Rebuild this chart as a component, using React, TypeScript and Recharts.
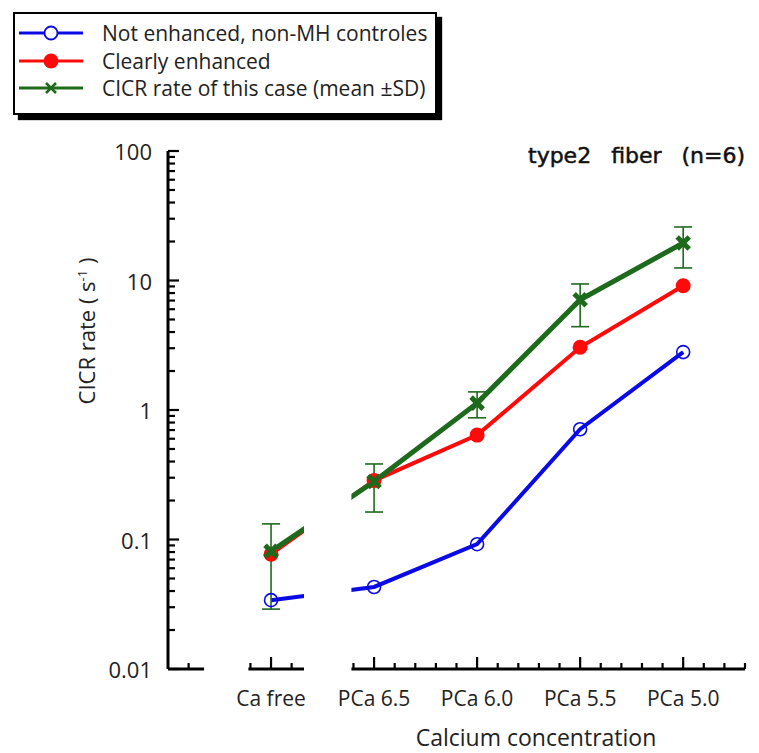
import React from "react";
import {
  LineChart, Line, XAxis, YAxis, ErrorBar, ReferenceLine, ReferenceArea, Legend,
} from "recharts";

const CATEGORIES = ["Ca free", "PCa 6.5", "PCa 6.0", "PCa 5.5", "PCa 5.0"];
const X_POS = [1, 2, 3, 4, 5];

const NOT_ENHANCED = [0.034, 0.043, 0.092, 0.71, 2.8];
const CLEARLY_ENHANCED = [0.077, 0.285, 0.64, 3.05, 9.1];
const THIS_CASE = [0.081, 0.28, 1.13, 7.1, 19.5];
const THIS_CASE_LOW = [0.029, 0.163, 0.87, 4.4, 12.5];
const THIS_CASE_HIGH = [0.132, 0.383, 1.38, 9.4, 25.9];

const X_TICKS = [
  0.2, 0.8, 1, 1.2, 1.8, 2, 2.2, 2.4, 2.6, 2.8, 3, 3.2, 3.4, 3.6, 3.8,
  4, 4.2, 4.4, 4.6, 4.8, 5, 5.2, 5.4, 5.6,
];
const Y_TICKS = [
  0.01, 0.02, 0.03, 0.04, 0.05, 0.06, 0.07, 0.08, 0.09,
  0.1, 0.2, 0.3, 0.4, 0.5, 0.6, 0.7, 0.8, 0.9,
  1, 2, 3, 4, 5, 6, 7, 8, 9,
  10, 20, 30, 40, 50, 60, 70, 80, 90, 100,
];
// broken x axis: visible pieces, and the gap that hides the connecting lines
const AXIS_SEGMENTS = [[0, 0.35], [0.78, 1.32], [1.78, 5.6]];
const BREAK_GAP = [1.32, 1.78];

const BLUE = "#0a0ae6";
const RED = "#ff0a0a";
const GREEN = "#1d6a1d";
const FONT = "'Open Sans', 'Noto Sans', sans-serif";

const data = X_POS.map((x, i) => ({
  x,
  notEnhanced: NOT_ENHANCED[i],
  clearly: CLEARLY_ENHANCED[i],
  thisCase: THIS_CASE[i],
  sd: [THIS_CASE[i] - THIS_CASE_LOW[i], THIS_CASE_HIGH[i] - THIS_CASE[i]],
}));

function XTick({ x, y, payload }: any) {
  const idx = X_POS.indexOf(payload.value);
  const major = idx >= 0;
  return (
    <g>
      <line x1={x} y1={y} x2={x} y2={y - (major ? 12 : 6)} stroke="#000" strokeWidth={2.2} />
      {major && (
        <text x={x} y={y + 29} textAnchor="middle" dominantBaseline="central"
          fontFamily={FONT} fontSize={21} fill="#222">
          {CATEGORIES[idx]}
        </text>
      )}
    </g>
  );
}

function YTick({ x, y, payload }: any) {
  const lg = Math.log10(payload.value);
  const major = Math.abs(lg - Math.round(lg)) < 1e-6;
  return (
    <g>
      <line x1={x} y1={y} x2={x + (major ? 11 : 7)} y2={y} stroke="#000" strokeWidth={2.2} />
      {major && (
        <text x={x - 16} y={y} textAnchor="end" dominantBaseline="central"
          fontFamily={FONT} fontSize={22} fill="#222">
          {String(payload.value)}
        </text>
      )}
    </g>
  );
}

function XMark({ cx, cy, size = 6, strokeWidth = 1.8 }: any) {
  if (cx == null || cy == null) return null;
  return (
    <g>
      <line x1={cx - size} y1={cy - size} x2={cx + size} y2={cy + size} stroke={GREEN} strokeWidth={strokeWidth} />
      <line x1={cx - size} y1={cy + size} x2={cx + size} y2={cy - size} stroke={GREEN} strokeWidth={strokeWidth} />
    </g>
  );
}

const LEGEND_ITEMS = [
  { label: "Not enhanced, non-MH controles", color: BLUE, marker: "open" },
  { label: "Clearly enhanced", color: RED, marker: "filled" },
  { label: "CICR rate of this case (mean \u00b1SD)", color: GREEN, marker: "x" },
];

function LegendBox() {
  return (
    <div style={{
      position: "relative", width: 420, height: 99, border: "2px solid #000",
      background: "#fff", boxShadow: "5px 5px 1px #000", fontFamily: FONT,
    }}>
      {LEGEND_ITEMS.map((it, i) => (
        <div key={it.label} style={{ position: "absolute", left: 0, top: 19 + i * 27.5 - 14, height: 28, width: 420 }}>
          <svg width={72} height={28} style={{ position: "absolute", left: 2, top: 0 }}>
            <line x1={2} y1={14} x2={66} y2={14} stroke={it.color} strokeWidth={3} />
            {it.marker === "open" && <circle cx={34} cy={14} r={6.5} fill="#fff" stroke={it.color} strokeWidth={1.8} />}
            {it.marker === "filled" && <circle cx={34} cy={14} r={7.5} fill={it.color} />}
            {it.marker === "x" && <XMark cx={34} cy={14} size={5} strokeWidth={2.5} />}
          </svg>
          <span style={{ position: "absolute", left: 87, top: 0, lineHeight: "28px", fontSize: 21, color: "#222", whiteSpace: "pre" }}>
            {it.label}
          </span>
        </div>
      ))}
    </div>
  );
}

export default function App() {
  return (
    <div style={{ position: "absolute", left: 0, top: 0, width: 759, height: 753, background: "#fff", overflow: "hidden" }}>
      <LineChart width={759} height={753} data={data} margin={{ top: 151, right: 14, bottom: 24, left: 0 }}>
        <XAxis type="number" dataKey="x" domain={[0, 5.6]} ticks={X_TICKS} interval={0}
          axisLine={false} tickLine={false} tickSize={0} tickMargin={0} height={60} tick={<XTick />}
          allowDataOverflow />
        <YAxis type="number" scale="log" domain={[0.01, 100]} ticks={Y_TICKS} interval={0}
          axisLine={{ stroke: "#000", strokeWidth: 3 }} tickLine={false} tickSize={0} tickMargin={0}
          width={168} tick={<YTick />} allowDataOverflow />
        {AXIS_SEGMENTS.map(([a, b]) => (
          <ReferenceLine key={a} segment={[{ x: a, y: 0.01 }, { x: b, y: 0.01 }]} stroke="#000" strokeWidth={3} />
        ))}
        <Line type="linear" dataKey="notEnhanced" stroke={BLUE} strokeWidth={4} isAnimationActive={false}
          dot={{ r: 6.5, fill: "none", stroke: BLUE, strokeWidth: 1.6 }} activeDot={false} />
        <Line type="linear" dataKey="clearly" stroke={RED} strokeWidth={4} isAnimationActive={false}
          dot={{ r: 7.5, fill: RED, stroke: RED, strokeWidth: 0 }} activeDot={false} />
        <Line type="linear" dataKey="thisCase" stroke={GREEN} strokeWidth={5} isAnimationActive={false}
          dot={<XMark />} activeDot={false}>
          <ErrorBar dataKey="sd" width={9} stroke={GREEN} strokeWidth={1.6} direction="y" />
        </Line>
        <ReferenceArea x1={BREAK_GAP[0]} x2={BREAK_GAP[1]} y1={0.012} y2={100} fill="#fff" fillOpacity={1}
          stroke="none" zIndex={450} ifOverflow="visible" />
        <Legend content={<LegendBox />} layout="horizontal" verticalAlign="middle" align="center"
          wrapperStyle={{ position: "absolute", left: 13, top: 12, width: 430, height: 110 }} />
      </LineChart>
      <div style={{
        position: "absolute", left: 528, top: 143, fontFamily: "'DejaVu Sans', sans-serif", fontSize: 22,
        whiteSpace: "pre", wordSpacing: 3, color: "#111", WebkitTextStroke: "0.5px #111",
      }}>
        {"type2  fiber  (n=6)"}
      </div>
      <div style={{
        position: "absolute", left: 86, top: 331, transform: "translate(-50%, -50%) rotate(-90deg)",
        fontFamily: FONT, fontSize: 22, whiteSpace: "pre", color: "#222",
      }}>
        CICR rate ( s<sup style={{ fontSize: 13 }}>-1</sup> )
      </div>
      <div style={{
        position: "absolute", left: 536, top: 737, transform: "translate(-50%, -50%)",
        fontFamily: FONT, fontSize: 23, whiteSpace: "nowrap", color: "#222",
      }}>
        Calcium concentration
      </div>
    </div>
  );
}
